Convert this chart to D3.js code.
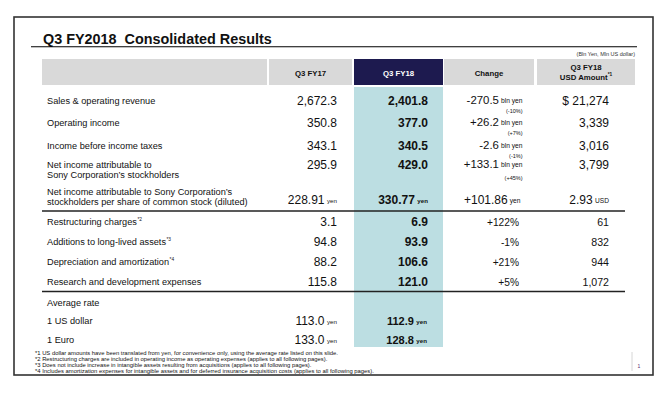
<!DOCTYPE html>
<html>
<head>
<meta charset="utf-8">
<script src="https://cdn.jsdelivr.net/npm/d3@7"></script>
<style>
  html, body { margin: 0; padding: 0; background: #fff; }
  svg { display: block; font-family: "Liberation Sans", Arial, sans-serif; }
</style>
</head>
<body>
<div id="chart"></div>
<script>
// ── data ──────────────────────────────────────────────
const columns = ['', 'Q3 FY17', 'Q3 FY18', 'Change', 'Q3 FY18\nUSD Amount'];

const mainLabels = [
  'Sales & operating revenue',
  'Operating income',
  'Income before income taxes',
  'Net income attributable to\nSony Corporation\u2019s stockholders',
  'Net income attributable to Sony Corporation\u2019s\nstockholders per share of common stock (diluted)'
];
const mainFy17   = [2672.3, 350.8, 343.1, 295.9, 228.91];
const mainFy18   = [2401.8, 377.0, 340.5, 429.0, 330.77];
const mainChange = [-270.5, 26.2, -2.6, 133.1, 101.86];
const mainPct    = [-10, 7, -1, 45, null];
const mainUsd    = [21274, 3339, 3016, 3799, 2.93];

const otherLabels = [
  'Restructuring charges',
  'Additions to long-lived assets',
  'Depreciation and amortization',
  'Research and development expenses'
];
const otherNotes  = ['*2', '*3', '*4', ''];
const otherFy17   = [3.1, 94.8, 88.2, 115.8];
const otherFy18   = [6.9, 93.9, 106.6, 121.0];
const otherPct    = [122, -1, 21, 5];
const otherUsd    = [61, 832, 944, 1072];

const rateLabels = ['1 US dollar', '1 Euro'];
const rateFy17   = [113.0, 133.0];
const rateFy18   = [112.9, 128.8];

const footnotes = [
  '*1 US dollar amounts have been translated from yen, for convenience only, using the average rate listed on this slide.',
  '*2 Restructuring charges are included in operating income as operating expenses (applies to all following pages).',
  '*3 Does not include increase in intangible assets resulting from acquisitions (applies to all following pages).',
  '*4 Includes amortization expenses for intangible assets and for deferred insurance acquisition costs (applies to all following pages).'
];

// ── style ─────────────────────────────────────────────
const W = 666, H = 401;
const C = { gray: '#d9d9d9', navy: '#1d1a4f', blue: '#bcdee2', ink: '#111', rule: '#222' };

const loc = d3.formatLocale({ decimal: '.', thousands: ',', grouping: [3], currency: ['$', ''], minus: '-' });
const f1 = loc.format(',.1f'), f2 = loc.format(',.2f'), fInt = loc.format(',d');
const fSign1 = loc.format('+,.1f'), fSign2 = loc.format('+,.2f'), fPct = loc.format('+d');

const svg = d3.select('#chart').append('svg')
  .attr('width', W).attr('height', H).attr('viewBox', `0 0 ${W} ${H}`);

svg.append('rect').attr('width', W).attr('height', H).attr('fill', '#fff');

// slide frame
svg.append('rect')
  .attr('x', 14).attr('y', 17).attr('width', 639).attr('height', 358)
  .attr('fill', 'none').attr('stroke', '#333').attr('stroke-width', 1.6);

// title
svg.append('text')
  .attr('x', 43).attr('y', 43.5)
  .attr('font-size', 14.4).attr('font-weight', 'bold').attr('fill', C.ink)
  .attr('xml:space', 'preserve')
  .text('Q3 FY2018  Consolidated Results');
svg.append('line')
  .attr('x1', 31).attr('x2', 637).attr('y1', 46.8).attr('y2', 46.8)
  .attr('stroke', '#000').attr('stroke-width', 1.1);
svg.append('text')
  .attr('x', 635).attr('y', 56).attr('text-anchor', 'end')
  .attr('font-size', 5.5).attr('fill', '#333')
  .text('(Bln Yen, Mln US dollar)');

// ── column scale ──────────────────────────────────────
const colEdges = [42, 269, 354, 444, 537];
const colEnds  = [267, 352, 443, 534, 635];
const colX = d3.scaleOrdinal().domain(columns).range(colEdges);
const colW = d3.scaleOrdinal().domain(columns).range(colEnds.map((e, i) => e - colEdges[i]));

const headTop = 59, headH = 26;

// highlighted FY18 column
svg.append('rect')
  .attr('x', colX(columns[2])).attr('y', 87)
  .attr('width', colW(columns[2])).attr('height', 260)
  .attr('fill', C.blue);

// header
const head = svg.append('g');
head.selectAll('rect').data(columns).join('rect')
  .attr('x', d => colX(d)).attr('y', headTop)
  .attr('width', d => colW(d)).attr('height', headH)
  .attr('fill', (d, i) => i === 2 ? C.navy : C.gray);

head.selectAll('text').data(columns.slice(1)).join('text')
  .attr('x', d => colX(d) + colW(d) / 2)
  .attr('y', d => d.includes('\n') ? headTop + 7.5 : headTop + headH / 2 + 0.5)
  .attr('text-anchor', 'middle').attr('dominant-baseline', 'central')
  .attr('font-size', 7.8).attr('font-weight', 'bold')
  .attr('fill', (d, i) => i === 1 ? '#fff' : C.ink)
  .each(function (d) {
    const lines = d.split('\n');
    const t = d3.select(this);
    lines.forEach((ln, k) => {
      t.append('tspan').attr('x', colX(d) + colW(d) / 2).attr('dy', k ? 10.8 : 0).text(ln);
    });
    if (lines.length > 1) {
      t.append('tspan').attr('font-size', 4.8).attr('dy', -3).text('*1');
    }
  });

// ── row scales ────────────────────────────────────────
const lineGap = 10.3;
const mainUnits = mainLabels.map(l => l.includes('\n') ? 1.2 : 1);
const mainCenter = mainUnits.map((u, i) => d3.sum(mainUnits.slice(0, i)) + u / 2);
const yMain = d3.scaleLinear().domain([mainCenter[0], mainCenter[4]]).range([101, 196.7]);
const yOther = d3.scalePoint().domain(d3.range(otherLabels.length)).range([221.7, 281.7]);
const yRate = d3.scalePoint().domain(d3.range(rateLabels.length + 1)).range([302.7, 340]);

const xLabel = 47;
const xFy17 = colEnds[1] - 15, xFy18 = colEnds[2] - 15, xChg = 522.5, xUsd = 609;

function cell(g, x, y, txt, opt = {}) {
  const t = g.append('text')
    .attr('x', x).attr('y', y)
    .attr('text-anchor', opt.anchor || 'end').attr('dominant-baseline', 'central')
    .attr('font-size', opt.size || 12)
    .attr('font-weight', opt.bold ? 'bold' : 'normal')
    .attr('fill', C.ink);
  t.append('tspan').text(txt);
  if (opt.unit) {
    t.append('tspan').attr('dx', opt.unitGap || 2.5).attr('font-size', opt.unitSize || 6.2).text(opt.unit);
  }
  return t;
}

// section 1
const g1 = svg.append('g');
mainLabels.forEach((lab, i) => {
  const lines = lab.split('\n');
  const cy = yMain(mainCenter[i]);
  const top = cy - (lines.length - 1) * lineGap / 2;
  lines.forEach((ln, k) => cell(g1, xLabel, top + k * lineGap, ln, { anchor: 'start', size: 9.2 }));
  // values sit on the first line of the stockholders row, on the last line of the per-share row
  const vy = i === 3 ? top : (i === 4 ? top + lineGap - 1.5 : cy);
  const perShare = i === 4;
  cell(g1, xFy17, vy, perShare ? f2(mainFy17[i]) : f1(mainFy17[i]), perShare ? { unit: 'yen' } : {});
  cell(g1, xFy18, vy, perShare ? f2(mainFy18[i]) : f1(mainFy18[i]), perShare ? { unit: 'yen', bold: true } : { bold: true });
  cell(g1, perShare ? xChg - 2 : xChg, vy - (perShare ? 0 : 1), perShare ? fSign2(mainChange[i]) : fSign1(mainChange[i]),
    { unit: perShare ? 'yen' : 'bln yen', unitSize: 6.7, size: perShare ? 12 : 11.4, unitGap: 2 });
  if (mainPct[i] !== null) {
    cell(g1, xChg, vy + (i === 3 ? 13 : 10.2), `(${fPct(mainPct[i])}%)`, { size: 5.5 });
  }
  if (perShare) cell(g1, xUsd, vy, mainUsd[i].toFixed(2), { unit: 'USD', unitSize: 6.6 });
  else cell(g1, xUsd, vy, (i === 0 ? '$ ' : '') + fInt(mainUsd[i]));
});

// rules
svg.selectAll('line.rule').data([211, 291.5]).join('line')
  .attr('class', 'rule')
  .attr('x1', 42).attr('x2', 625).attr('y1', d => d).attr('y2', d => d)
  .attr('stroke', C.rule).attr('stroke-width', 1.3);

// section 2
const g2 = svg.append('g');
otherLabels.forEach((lab, i) => {
  const y = yOther(i);
  const t = cell(g2, xLabel, y, lab, { anchor: 'start', size: 9.2 });
  if (otherNotes[i]) t.append('tspan').attr('font-size', 4.8).attr('dy', -3).attr('dx', 0.5).text(otherNotes[i]);
  cell(g2, xFy17, y, f1(otherFy17[i]));
  cell(g2, xFy18, y, f1(otherFy18[i]), { bold: true });
  cell(g2, 519, y, fPct(otherPct[i]) + '%', { size: 10.2 });
  cell(g2, xUsd, y, fInt(otherUsd[i]), { size: 10.6 });
});

// section 3 – average rate
const g3 = svg.append('g');
cell(g3, xLabel, yRate(0), 'Average rate', { anchor: 'start', size: 9.2 });
rateLabels.forEach((lab, i) => {
  const y = yRate(i + 1);
  cell(g3, xLabel, y, lab, { anchor: 'start', size: 9.2 });
  cell(g3, xFy17, y, f1(rateFy17[i]), { unit: 'yen' });
  cell(g3, xFy18 - 1, y, f1(rateFy18[i]), { unit: 'yen', bold: true, size: 11 });
});

// footnotes
svg.append('g').selectAll('text').data(footnotes).join('text')
  .attr('x', 35).attr('y', (d, i) => 353.3 + i * 6)
  .attr('dominant-baseline', 'central')
  .attr('font-size', 5.85).attr('fill', C.ink)
  .text(d => d);

// page number
svg.append('line')
  .attr('x1', 632).attr('x2', 632).attr('y1', 352).attr('y2', 371)
  .attr('stroke', '#ccc').attr('stroke-width', 0.8);
svg.append('text')
  .attr('x', 639).attr('y', 365.5).attr('text-anchor', 'middle').attr('dominant-baseline', 'central')
  .attr('font-size', 5).attr('fill', '#5b2c6f')
  .text('1');
</script>
</body>
</html>
